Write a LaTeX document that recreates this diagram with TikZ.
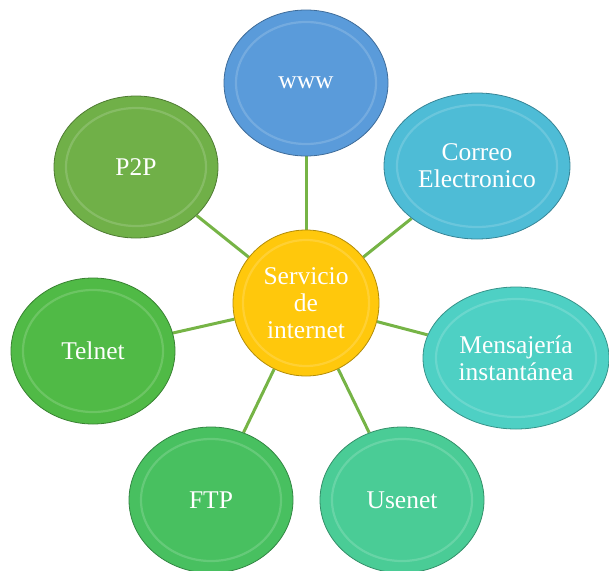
\documentclass[tikz,border=0pt]{standalone}
\usepackage{fontspec}
\setmainfont{Liberation Serif}
\usetikzlibrary{shapes.geometric,backgrounds}

\definecolor{cwww}{RGB}{90,155,218}
\definecolor{ccorreo}{RGB}{78,188,214}
\definecolor{cmsg}{RGB}{78,208,196}
\definecolor{cusenet}{RGB}{74,204,150}
\definecolor{cftp}{RGB}{72,192,96}
\definecolor{ctelnet}{RGB}{80,186,70}
\definecolor{cpp}{RGB}{112,176,72}
\definecolor{chub}{RGB}{255,200,12}
\definecolor{clink}{RGB}{118,180,70}

\tikzset{
  bubble/.style={ellipse, inner sep=0, minimum width=164, minimum height=146,
    fill=#1, draw=#1!70!black, line width=0.8, text=white, align=center,
    font=\fontsize{25.5}{27}\selectfont},
  ring/.style={draw=white, opacity=0.16, line width=2.2},
  link/.style={draw=clink, line width=3}
}

\begin{document}
\begin{tikzpicture}[x=1pt, y=-1pt]
  \useasboundingbox (0,0) rectangle (609,570);

  % hub and services
  \node[bubble=chub, minimum width=146, minimum height=146] (hub) at (306,303) {Servicio\\de\\internet};
  \node[bubble=cwww] (www) at (306,83) {www};
  \node[bubble=ccorreo, minimum width=186] (correo) at (477,166) {Correo\\Electronico};
  \node[bubble=cmsg, minimum width=186, minimum height=142] (msg) at (516,358) {Mensajería\\instantánea};
  \node[bubble=cusenet] (usenet) at (402,500) {Usenet};
  \node[bubble=cftp] (ftp) at (211,500) {FTP};
  \node[bubble=ctelnet] (telnet) at (93,351) {Telnet};
  \node[bubble=cpp, minimum height=142] (pp) at (136,167) {P2P};

  % inner rims
  \draw[ring] (hub.center) circle [radius=63];
  \foreach \n in {www,usenet,ftp,telnet}
    \draw[ring] (\n.center) ellipse [x radius=70, y radius=61];
  \draw[ring] (pp.center) ellipse [x radius=70, y radius=59];
  \draw[ring] (correo.center) ellipse [x radius=80, y radius=61];
  \draw[ring] (msg.center) ellipse [x radius=80, y radius=59];

  % connectors
  \begin{scope}[on background layer]
    \foreach \n in {www,correo,msg,usenet,ftp,telnet,pp}
      \draw[link] (hub) -- (\n);
  \end{scope}
\end{tikzpicture}
\end{document}
